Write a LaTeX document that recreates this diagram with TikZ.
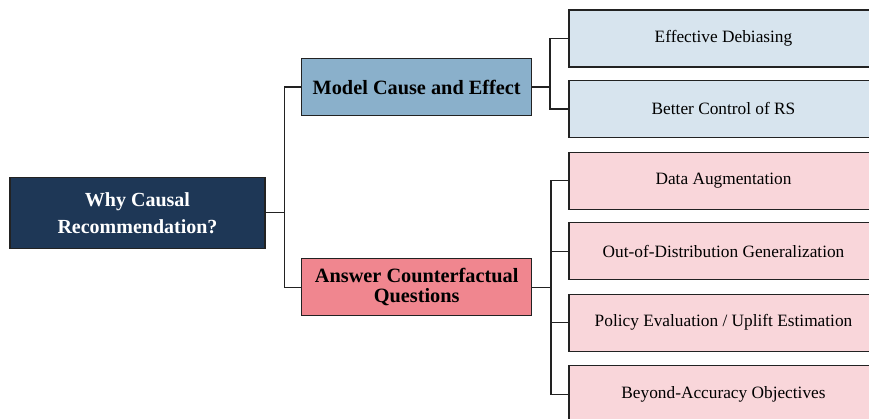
\documentclass[tikz,border=0pt]{standalone}
\usepackage{fontspec}
\setmainfont{Liberation Serif}
\definecolor{navy}{HTML}{1E3756}
\definecolor{steel}{HTML}{8AB0CB}
\definecolor{rosey}{HTML}{F0868F}
\definecolor{lightblue}{HTML}{D7E4EE}
\definecolor{lightpink}{HTML}{F9D6DA}
\definecolor{edge}{HTML}{222222}
\begin{document}
\begin{tikzpicture}[x=1pt,y=-1pt,
  box/.style={draw=edge, line width=1.3pt, inner sep=0pt, align=center, text=black},
  rootbox/.style={box, fill=navy, text=white, minimum width=255pt, minimum height=71pt, font=\fontsize{20}{27}\selectfont\bfseries},
  midbox/.style={box, minimum width=230pt, minimum height=57pt, font=\fontsize{20.3}{20}\selectfont\bfseries},
  leafbox/.style={box, minimum width=309pt, minimum height=57pt, font=\fontsize{17.3}{20}\selectfont},
  conn/.style={draw=edge, line width=1.3pt}]
\useasboundingbox (0,0) rectangle (869,419);
\clip (0,0) rectangle (869,419);
\node[rootbox] (root) at (137.5,212.8) {Why Causal\\Recommendation?};
\node[midbox, fill=steel] (m1) at (416.7,87) {Model Cause and Effect};
\node[midbox, fill=rosey] (m2) at (416.7,287.2) {Answer Counterfactual\\Questions};
\node[leafbox, fill=lightblue] (b1) at (723.5,38.4) {Effective Debiasing};
\node[leafbox, fill=lightblue] (b2) at (723.5,108.9) {Better Control of RS};
\node[leafbox, fill=lightpink] (p1) at (723.5,180.7) {Data Augmentation};
\node[leafbox, fill=lightpink] (p2) at (723.5,251.3) {Out-of-Distribution Generalization};
\node[leafbox, fill=lightpink] (p3) at (723.5,322.7) {Policy Evaluation / Uplift Estimation};
\node[leafbox, fill=lightpink] (p4) at (723.5,394.2) {Beyond-Accuracy Objectives};
\draw[conn] (root.east) -- ++(18.5,0) coordinate (j0);
\draw[conn] (j0) |- (m1.west);
\draw[conn] (j0) |- (m2.west);
\draw[conn] (m1.east) -- ++(17.5,0) coordinate (j1);
\draw[conn] (j1) |- (b1.west);
\draw[conn] (j1) |- (b2.west);
\draw[conn] (m2.east) -- ++(18.5,0) coordinate (j2);
\draw[conn] (j2) |- (p1.west);
\draw[conn] (j2) |- (p2.west);
\draw[conn] (j2) |- (p3.west);
\draw[conn] (j2) |- (p4.west);
\end{tikzpicture}
\end{document}
